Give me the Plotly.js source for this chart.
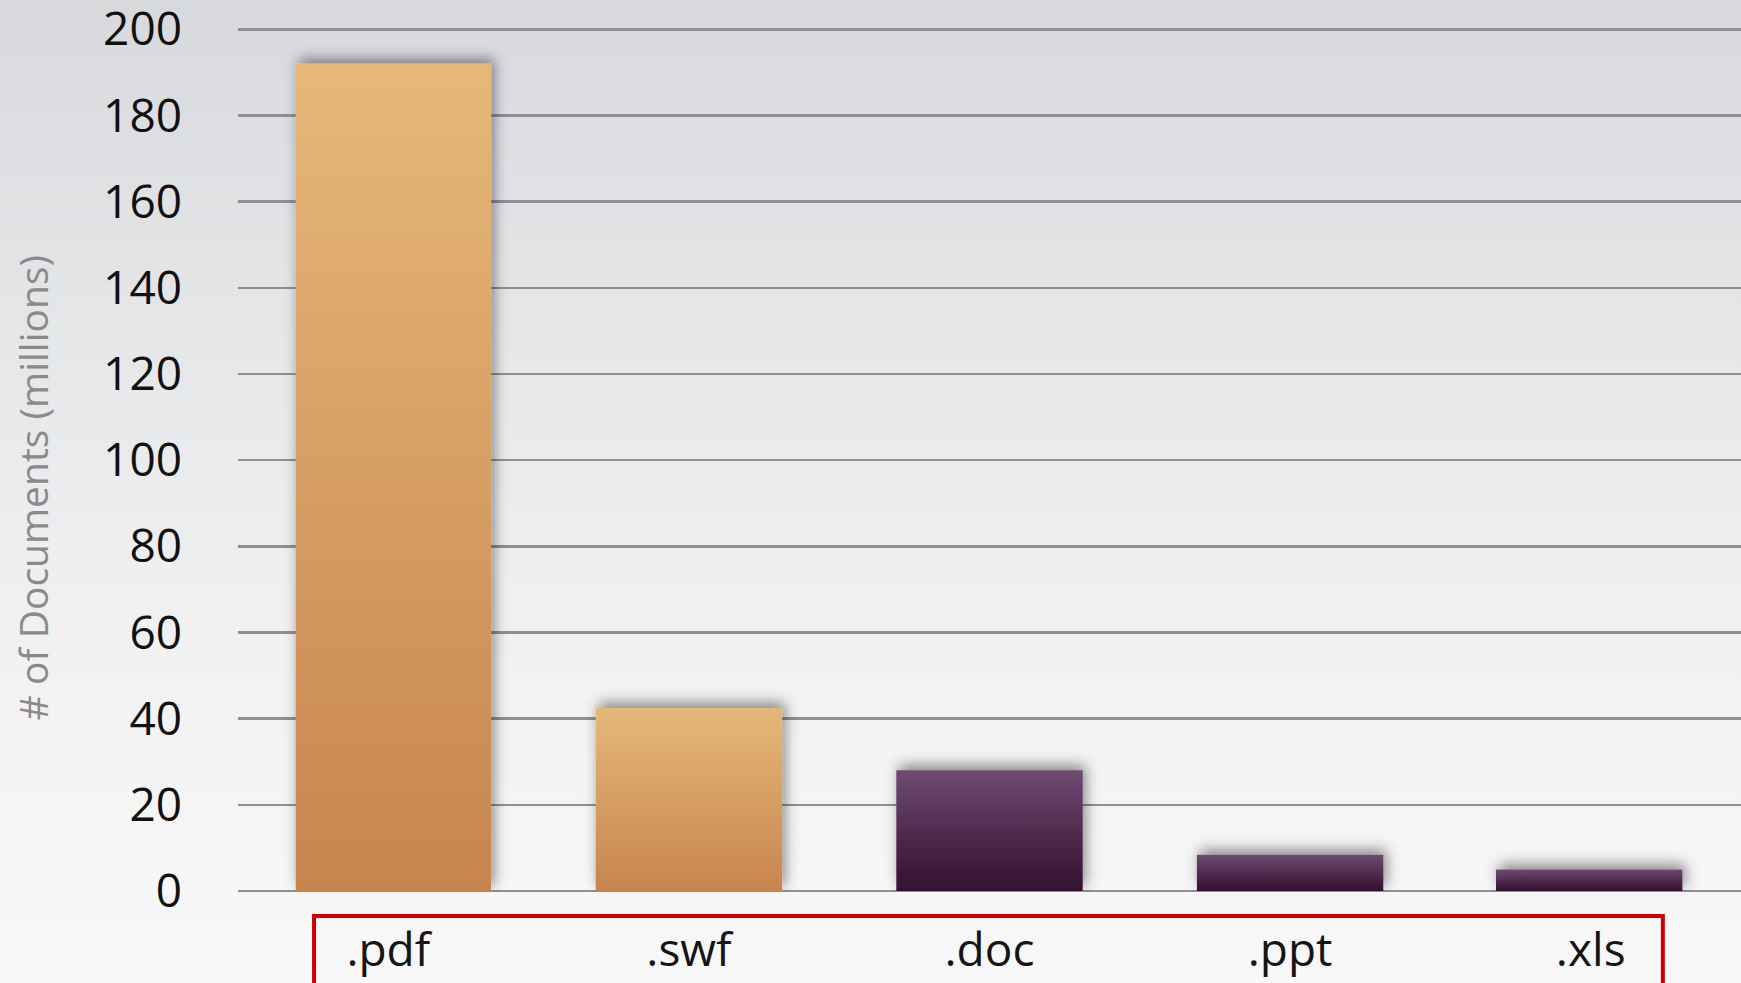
<!DOCTYPE html>
<html>
<head>
<meta charset="utf-8">
<script src="https://cdn.plot.ly/plotly-3.0.1.min.js"></script>
<style>
  html, body { margin: 0; padding: 0; }
  body { width: 1741px; height: 983px; overflow: hidden;
         background: linear-gradient(to bottom, #d8d9dc 0%, #e6e7e9 35%, #f1f1f2 65%, #f8f8f8 100%); }
  #chart { width: 1741px; height: 983px; }
</style>
</head>
<body>
<div id="chart"></div>
<script>
// ---- data ----
const categories = ['.pdf', '.swf', '.doc', '.ppt', '.xls'];
const documentsMillions = [192, 42.5, 28, 8.4, 5];
const barGroups = ['orange', 'orange', 'purple', 'purple', 'purple'];
const yTickValues = [0, 20, 40, 60, 80, 100, 120, 140, 160, 180, 200];
const yAxisTitle = '# of Documents (millions)';

// ---- styles ----
const groupStyle = {
  orange: { mid: '#d69e63', top: '#e6b877', bottom: '#c7854e' },
  purple: { mid: '#52294f', top: '#6f4a72', bottom: '#33102f' }
};
const FONT = '"Open Sans", "Noto Sans", sans-serif';

const trace = {
  type: 'bar',
  x: categories,
  y: documentsMillions,
  width: [0.65, 0.62, 0.62, 0.62, 0.62],
  offset: [-0.308, -0.31, -0.31, -0.31, -0.315],
  marker: { color: barGroups.map(g => groupStyle[g].mid), line: { width: 0 } },
  hoverinfo: 'none'
};

const layout = {
  width: 1741, height: 983,
  margin: { l: 238, r: 0, t: 25, b: 92 },
  paper_bgcolor: 'rgba(0,0,0,0)',
  plot_bgcolor: 'rgba(0,0,0,0)',
  showlegend: false,
  font: { family: FONT, color: '#111111' },
  xaxis: {
    type: 'category',
    range: [-0.5, 4.5],
    showgrid: false, showline: false, zeroline: false,
    ticks: '',
    tickfont: { size: 46, color: '#151515', family: FONT },
    ticklabelstandoff: 28
  },
  yaxis: {
    range: [0, 201],
    tickvals: yTickValues,
    ticktext: yTickValues.map(String),
    showgrid: true, gridcolor: '#8e8f93', gridwidth: 2.5,
    zeroline: true, zerolinecolor: '#8e8f93', zerolinewidth: 2.5,
    showline: false, ticks: '',
    ticklabeloverflow: 'allow',
    tickfont: { size: 46, color: '#111111', family: FONT },
    ticklabelstandoff: 55
  },
  annotations: [{
    text: yAxisTitle, textangle: -90,
    xref: 'paper', yref: 'paper', x: -0.137, y: 0.465,
    xanchor: 'center', yanchor: 'middle', showarrow: false,
    font: { size: 39, color: '#8a8a8c', family: FONT }
  }],
  shapes: [{
    type: 'rect', xref: 'paper', yref: 'paper',
    x0: 0.0506, x1: 0.948, y0: -0.2, y1: -0.029,
    line: { color: '#cc0000', width: 4 }, fillcolor: 'rgba(0,0,0,0)'
  }]
};

const gd = document.getElementById('chart');
Plotly.newPlot(gd, [trace], layout, { staticPlot: true, displayModeBar: false }).then(() => {
  const ns = 'http://www.w3.org/2000/svg';
  const svg = gd.querySelector('svg.main-svg');
  let defs = svg.querySelector('defs');
  if (!defs) { defs = document.createElementNS(ns, 'defs'); svg.insertBefore(defs, svg.firstChild); }
  Object.keys(groupStyle).forEach(g => {
    const lg = document.createElementNS(ns, 'linearGradient');
    lg.setAttribute('id', 'grad-' + g);
    lg.setAttribute('x1', '0'); lg.setAttribute('y1', '0');
    lg.setAttribute('x2', '0'); lg.setAttribute('y2', '1');
    [[0, groupStyle[g].top], [1, groupStyle[g].bottom]].forEach(([o, c]) => {
      const s = document.createElementNS(ns, 'stop');
      s.setAttribute('offset', o); s.setAttribute('stop-color', c);
      lg.appendChild(s);
    });
    defs.appendChild(lg);
  });
  const f = document.createElementNS(ns, 'filter');
  f.setAttribute('id', 'barShadow');
  f.setAttribute('filterUnits', 'userSpaceOnUse');
  f.setAttribute('x', '-200'); f.setAttribute('y', '-200');
  f.setAttribute('width', '3000'); f.setAttribute('height', '2000');
  const ds = document.createElementNS(ns, 'feDropShadow');
  ds.setAttribute('dx', '3'); ds.setAttribute('dy', '-5');
  ds.setAttribute('stdDeviation', '7');
  ds.setAttribute('flood-color', '#000'); ds.setAttribute('flood-opacity', '0.45');
  f.appendChild(ds);
  defs.appendChild(f);
  gd.querySelectorAll('.bars .point path').forEach((p, i) => {
    p.style.fill = 'url(#grad-' + barGroups[i] + ')';
    p.setAttribute('filter', 'url(#barShadow)');
  });
});
</script>
</body>
</html>
